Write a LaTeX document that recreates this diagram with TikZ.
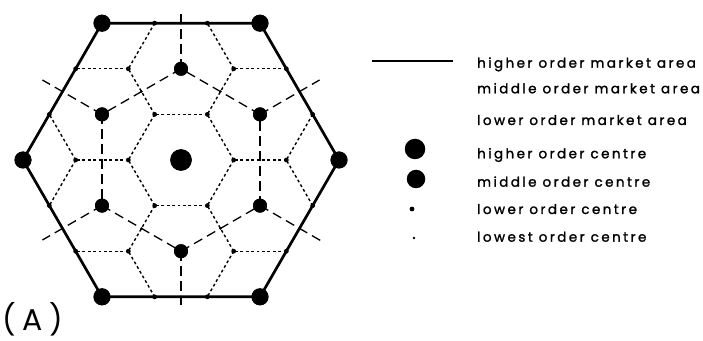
\documentclass[tikz,border=0pt]{standalone}
\usepackage{fontspec}
\setmainfont{Poppins}
\newfontfamily\legfont{Poppins}[LetterSpace=18,FakeBold=1.5]
\newfontfamily\labfont{Poppins}[LetterSpace=22]
\usetikzlibrary{calc}
\begin{document}
\begin{tikzpicture}[x=1pt,y=1pt,
  dotline/.style={line width=1.4pt, dash pattern=on 2.8pt off 2.6pt},
  dashline/.style={line width=1.3pt, dash pattern=on 9.5pt off 5.5pt},
  higherline/.style={line width=2.7pt, line join=round},
  cdot/.style={circle, fill=black, inner sep=0pt, minimum size=21.5pt},
  hdot/.style={circle, fill=black, inner sep=0pt, minimum size=17pt},
  mdot/.style={circle, fill=black, inner sep=0pt, minimum size=14pt},
  ldot/.style={circle, fill=black, inner sep=0pt, minimum size=4.8pt},
  lstdot/.style={circle, fill=black, inner sep=0pt, minimum size=2.8pt},
  legtext/.style={anchor=base west, inner sep=0pt, font=\legfont\fontsize{13.5}{15}\selectfont},
]
\useasboundingbox (0,0) rectangle (703,340);
\pgfmathsetmacro\R{158}
\pgfmathsetmacro\s{\R/3}
\pgfmathsetmacro\hh{\s*0.8660254}
\pgfmathsetmacro\rmid{\R/sqrt(3)}
\begin{scope}[shift={(181,180)}]
  % higher order centres
  \node[cdot] (h0) at (0,0) {};
  \foreach \i [evaluate=\i as \a using {60*(\i-1)}] in {1,...,6}
    \node[hdot] (h\i) at (\a:\R) {};
  % middle order centres
  \foreach \i [evaluate=\i as \a using {30+60*(\i-1)}] in {1,...,6}
    \node[mdot] (m\i) at (\a:\rmid) {};
  % spoke ends
  \coordinate (e1) at (30:160);
  \coordinate (e2) at (90:150);
  \coordinate (e3) at (150:160);
  \coordinate (e4) at (210:160);
  \coordinate (e5) at (270:145);
  \coordinate (e6) at (330:162);
  % lower order market areas (dotted honeycomb)
  \begin{scope}
    \clip (h1.center) -- (h2.center) -- (h3.center) -- (h4.center) -- (h5.center) -- (h6.center) -- cycle;
    \foreach \m in {-3,...,3}
      \foreach \n in {-4,...,4} {
        \pgfmathsetmacro\cx{1.5*\s*\m}
        \pgfmathsetmacro\cy{\hh*\m + 2*\hh*\n}
        \coordinate (p0) at (\cx+\s,\cy);
        \coordinate (p1) at (\cx+0.5*\s,\cy+\hh);
        \coordinate (p2) at (\cx-0.5*\s,\cy+\hh);
        \coordinate (p3) at (\cx-\s,\cy);
        \draw[dotline] (p0) -- (p1);
        \draw[dotline] (p1) -- (p2);
        \draw[dotline] (p2) -- (p3);
      }
  \end{scope}
  % middle order market areas (dashed)
  \foreach \i/\j in {1/2,2/3,3/4,4/5,5/6,6/1}
    \draw[dashline] (m\i.center) -- (m\j.center);
  \foreach \i in {1,...,6}
    \draw[dashline] (m\i.center) -- (e\i);
  % higher order market area
  \draw[higherline] (h1.center) -- (h2.center) -- (h3.center) -- (h4.center) -- (h5.center) -- (h6.center) -- cycle;
  % redraw centres on top
  \node[cdot] at (h0) {};
  \foreach \i in {1,...,6} { \node[hdot] at (h\i) {}; \node[mdot] at (m\i) {}; }
  % lower order centres
  \foreach \k [evaluate=\k as \a using {60*\k}] in {0,...,5} {
    \node[ldot] (li\k) at (\a:\s) {};
    \node[ldot] (lo\k) at (\a:2*\s) {};
  }
  \foreach \i/\j in {1/2,2/3,3/4,4/5,5/6,6/1} {
    \node[ldot] at ($(h\i)!0.3333!(h\j)$) {};
    \node[ldot] at ($(h\i)!0.6667!(h\j)$) {};
  }
  % lowest order centres
  \foreach \k [evaluate=\k as \a using {60*\k}, evaluate=\k as \b using {30+60*\k}] in {0,...,5} {
    \node[lstdot] (t\k) at (\a:\R/2) {};
    \node[lstdot] (u\k) at (\b:\R*0.8660254) {};
  }
\end{scope}
% legend
\coordinate (la) at (372,279);
\coordinate (lb) at (453,279);
\draw[higherline] (la) -- (lb);
\node[circle, fill=black, inner sep=0pt, minimum size=20.5pt] (lg4) at (415,191) {};
\node[circle, fill=black, inner sep=0pt, minimum size=18.5pt] (lg5) at (416,161) {};
\node[ldot] (lg6) at (412,131) {};
\node[lstdot] (lg7) at (414,102) {};
\node[legtext] (t1) at (477,272.3) {higher order market area};
\node[legtext] (t2) at (477,246.7) {middle order market area};
\node[legtext] (t3) at (477,215) {lower order market area};
\node[legtext] (t4) at (477,181.7) {higher order centre};
\node[legtext] (t5) at (477,153.3) {middle order centre};
\node[legtext] (t6) at (477,126) {lower order centre};
\node[legtext] (t7) at (477,98.3) {lowest order centre};
\node[anchor=base west, inner sep=0pt, font=\labfont\fontsize{30}{32}\selectfont] (lab) at (2,10) {(A)};
\end{tikzpicture}
\end{document}
